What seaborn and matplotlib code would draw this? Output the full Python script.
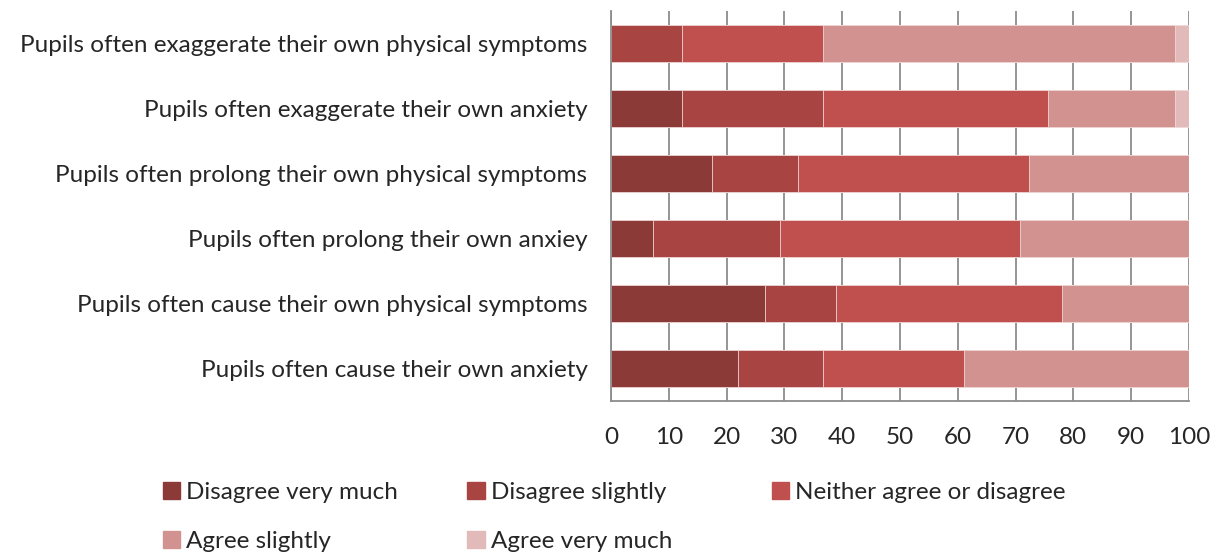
import matplotlib
matplotlib.use("Agg")
import matplotlib.pyplot as plt
import matplotlib.patches as mpatches
import seaborn as sns
import pandas as pd

questions = [
    "Pupils often exaggerate their own physical symptoms",
    "Pupils often exaggerate their own anxiety",
    "Pupils often prolong their own physical symptoms",
    "Pupils often prolong their own anxiey",
    "Pupils often cause their own physical symptoms",
    "Pupils often cause their own anxiety",
]
categories = [
    "Disagree very much",
    "Disagree slightly",
    "Neither agree or disagree",
    "Agree slightly",
    "Agree very much",
]
disagree_very_much = [0.0, 12.2, 17.5, 7.3, 26.7, 21.9]
disagree_slightly = [12.2, 24.4, 14.9, 22.0, 12.3, 14.8]
neither = [24.4, 39.0, 40.0, 41.4, 39.0, 24.4]
agree_slightly = [61.0, 22.0, 27.6, 29.3, 22.0, 38.9]
agree_very_much = [2.4, 2.4, 0.0, 0.0, 0.0, 0.0]
colors = ["#8C3A38", "#A84543", "#C0504D", "#D19290", "#E2BAB9"]

df = pd.DataFrame({
    "question": questions,
    categories[0]: disagree_very_much,
    categories[1]: disagree_slightly,
    categories[2]: neither,
    categories[3]: agree_slightly,
    categories[4]: agree_very_much,
})
cum = df[categories].cumsum(axis=1)
cum["question"] = df["question"]

sns.set_style("white")
plt.rcParams["font.family"] = ["Lato", "DejaVu Sans"]

fig = plt.figure(figsize=(12.27, 5.53), dpi=100)
ax = fig.add_axes([611 / 1227, 152 / 553, 578 / 1227, 390 / 553])

# stacked bars: draw cumulative totals from the right-most segment down
for cat, col in reversed(list(zip(categories, colors))):
    sns.barplot(data=cum, x=cat, y="question", order=questions, color=col,
                orient="h", width=0.57, edgecolor="#F0D8D8", linewidth=0.6,
                saturation=1, ax=ax)

ax.set_xlim(0, 100)
ax.set_ylim(5.5, -0.5)
ax.set_xticks(range(0, 101, 10))
ax.set_xlabel("")
ax.set_ylabel("")
ax.grid(axis="x", color="#8C8C8C", linewidth=1.3)
ax.set_axisbelow(True)
for s in ["top", "right"]:
    ax.spines[s].set_visible(False)
for s in ["left", "bottom"]:
    ax.spines[s].set_color("#8C8C8C")
    ax.spines[s].set_linewidth(1.3)
ax.tick_params(axis="y", length=0, pad=17, labelsize=17.5)
ax.tick_params(axis="x", length=0, pad=19, labelsize=17.5)

legend_pos = [(0.133, 0.090), (0.381, 0.090), (0.629, 0.090),
              (0.133, 0.002), (0.381, 0.002)]
for cat, col, (lx, ly) in zip(categories, colors, legend_pos):
    h = mpatches.Patch(color=col, label=cat)
    fig.legend(handles=[h], loc="lower left", bbox_to_anchor=(lx, ly),
               frameon=False, fontsize=17.5, handlelength=0.7,
               handleheight=0.7, handletextpad=0.25, borderaxespad=0,
               borderpad=0)

fig.savefig("out.png", dpi=100)
